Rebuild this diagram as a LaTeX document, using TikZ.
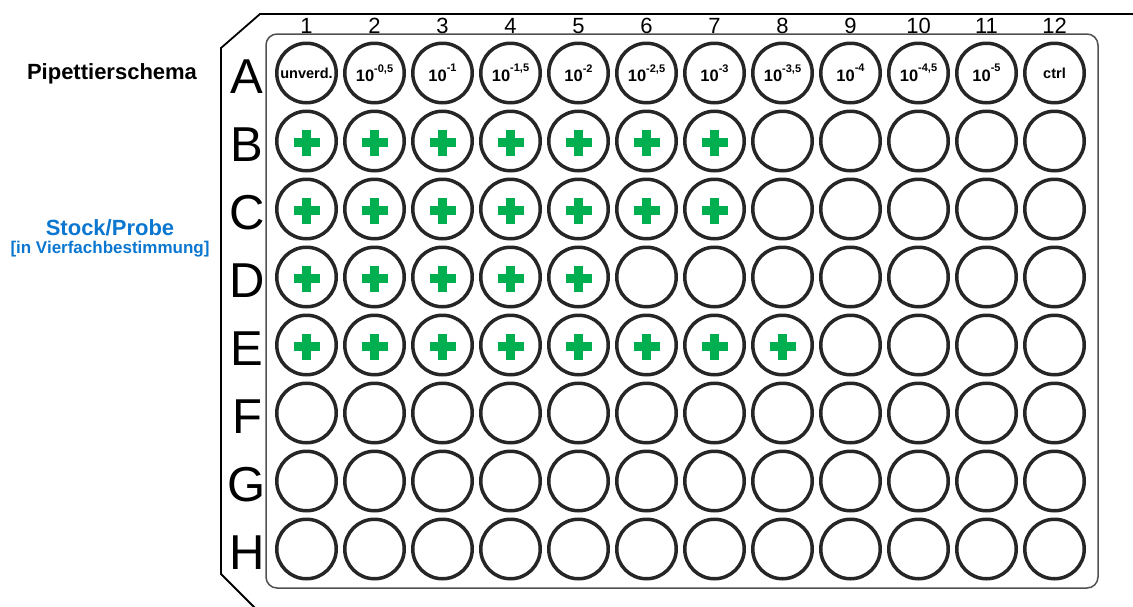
\documentclass[tikz,border=0pt]{standalone}
\usepackage{fontspec}
\setmainfont{Liberation Sans}
\definecolor{plusgreen}{HTML}{00B050}
\definecolor{probeblue}{HTML}{0B77D0}
\definecolor{wellgray}{HTML}{262626}
\definecolor{rimgray}{HTML}{505050}
\newcommand\tenpow[1]{{\fontsize{16.5}{16.5}\selectfont\bfseries 10}\raisebox{9.5pt}{\fontsize{11}{11}\selectfont\bfseries #1}}
\begin{document}
\begin{tikzpicture}[x=1pt,y=-1pt,
  well/.style={circle,draw=wellgray,line width=3.5pt,minimum size=59.5pt,inner sep=0pt},
  welltext/.style={font=\fontsize{14.5}{14.5}\selectfont\bfseries},
  rowlab/.style={font=\fontsize{49}{49}\selectfont,anchor=base,inner sep=0pt},
  collab/.style={font=\fontsize{22}{22}\selectfont,anchor=base,inner sep=0pt},
  plate/.style={line width=1.8pt,black},
  rim/.style={line width=1.5pt,draw=rimgray,rounded corners=11pt},
  plus/.style={fill=plusgreen}]
\useasboundingbox (0,0) rectangle (1133,606);
% plate outline
\draw[plate] (1140,14) -- (260,14) -- (221,48) -- (221,574) -- (256,609);
\draw[rim] (266,34) rectangle (1098,588);
% side texts
\node[anchor=base,inner sep=0pt,font=\fontsize{22}{22}\selectfont\bfseries] (title) at (112,79) {Pipettierschema};
\node[anchor=base,inner sep=0pt,font=\fontsize{22}{22}\selectfont\bfseries,text=probeblue] (stock) at (110,235) {Stock/Probe};
\node[anchor=base,inner sep=0pt,font=\fontsize{17}{17}\selectfont\bfseries,text=probeblue] (probe) at (110,253) {[in Vierfachbestimmung]};
% column numbers
\foreach \c in {1,...,12} {
  \node[collab] (col-\c) at ({306.5+(\c-1)*68},33) {\c};
}
% row letters
\foreach \r [count=\i] in {A,B,C,D,E,F,G,H} {
  \node[rowlab] (lab-\r) at (247,{73+(\i-1)*68+20}) {\r};
}
% row A with labels
\foreach \c/\t in {1/{unverd.},2/{\tenpow{-0,5}},3/{\tenpow{-1}},4/{\tenpow{-1,5}},5/{\tenpow{-2}},6/{\tenpow{-2,5}},7/{\tenpow{-3}},8/{\tenpow{-3,5}},9/{\tenpow{-4}},10/{\tenpow{-4,5}},11/{\tenpow{-5}},12/{ctrl}} {
  \node[well,welltext] (w-A-\c) at ({306.5+(\c-1)*68},73) {\t};
}
% other rows
\foreach \r [count=\i from 2] in {B,C,D,E,F,G,H} {
  \foreach \c in {1,...,12} {
    \node[well] (w-\r-\c) at ({306.5+(\c-1)*68},{73+(\i-1)*68}) {};
  }
}
% green crosses
\foreach \w in {B-1,B-2,B-3,B-4,B-5,B-6,B-7,C-1,C-2,C-3,C-4,C-5,C-6,C-7,D-1,D-2,D-3,D-4,D-5,E-1,E-2,E-3,E-4,E-5,E-6,E-7,E-8} {
  \fill[plus] ([shift={(-13,-3)}]w-\w.center) rectangle ([shift={(13,6)}]w-\w.center);
  \fill[plus] ([shift={(-4.5,-11.5)}]w-\w.center) rectangle ([shift={(4.5,14.5)}]w-\w.center);
}
\end{tikzpicture}
\end{document}
